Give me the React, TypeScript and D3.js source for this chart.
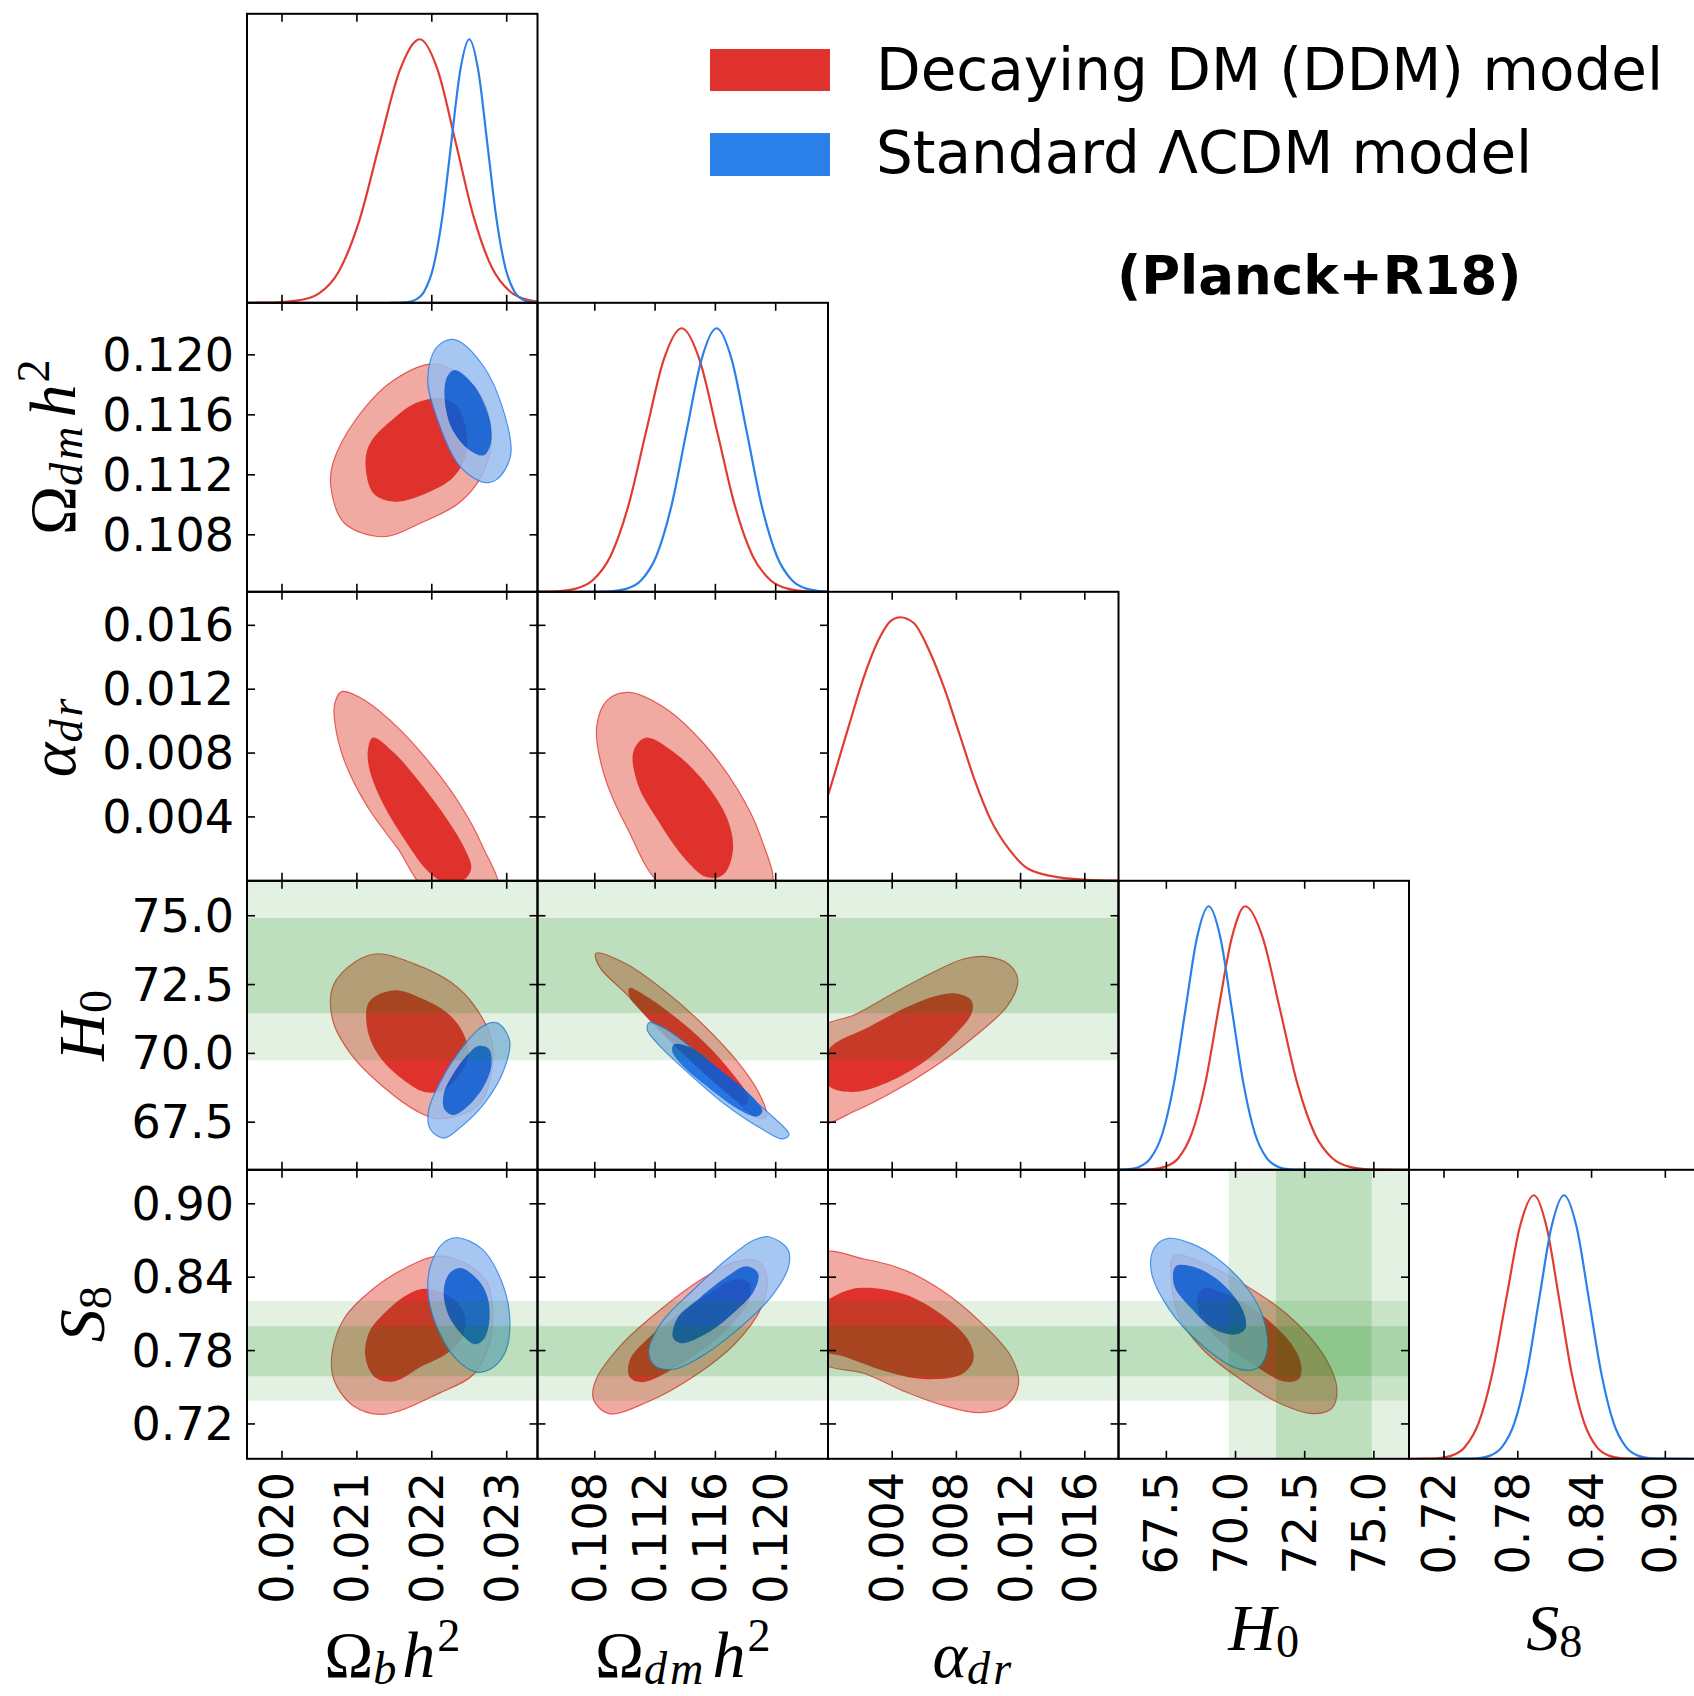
import React from 'react';
import * as d3 from 'd3';

type P = [number, number];

// ---------- axes ----------
const paramDomains: P[] = [
  [0.019533, 0.023411],
  [0.1042, 0.12347],
  [0, 0.0181],
  [65.77, 76.27],
  [0.6915, 0.9278],
];
const paramTicks: number[][] = [
  [0.02, 0.021, 0.022, 0.023],
  [0.108, 0.112, 0.116, 0.12],
  [0.004, 0.008, 0.012, 0.016],
  [67.5, 70.0, 72.5, 75.0],
  [0.72, 0.78, 0.84, 0.9],
];
const paramTickLabels: string[][] = [
  ['0.020', '0.021', '0.022', '0.023'],
  ['0.108', '0.112', '0.116', '0.120'],
  ['0.004', '0.008', '0.012', '0.016'],
  ['67.5', '70.0', '72.5', '75.0'],
  ['0.72', '0.78', '0.84', '0.90'],
];
const densityDomain: P = [0, 1.0965];

// ---------- external constraints (R18 H0, S8) ----------
const r18H0Bands: P[] = [[69.75, 76.6], [71.46, 74.92]];
const s8Bands: P[] = [[0.739, 0.8206], [0.759, 0.8]];
const priorBands: (P[] | null)[] = [null, null, null, r18H0Bands, s8Bands];

// ---------- legend ----------
const legendLabels = ['Decaying DM (DDM) model', 'Standard \u039BCDM model'];
const titleText = '(Planck+R18)';

// ---------- 1D marginals [value, density] ----------
const ddmObh1D: P[] = [[0.01953, 0], [0.01968, 0.0003], [0.01995, 0.002], [0.02022, 0.009], [0.02049, 0.035], [0.02076, 0.12], [0.02103, 0.31], [0.0213, 0.6], [0.02157, 0.88], [0.02184, 1], [0.02208, 0.882], [0.02232, 0.607], [0.02256, 0.325], [0.0228, 0.135], [0.02304, 0.044], [0.02328, 0.011], [0.02352, 0.002]];
const lcdmObh1D: P[] = [[0.02144, 0], [0.02166, 0.002], [0.02178, 0.011], [0.0219, 0.044], [0.02202, 0.135], [0.02214, 0.325], [0.02226, 0.607], [0.02238, 0.882], [0.0225, 1], [0.02262, 0.882], [0.02274, 0.607], [0.02286, 0.325], [0.02298, 0.135], [0.0231, 0.044], [0.02322, 0.011], [0.02334, 0.002], [0.02346, 0]];
const ddmOdm1D: P[] = [[0.1042, 0.0002], [0.10432, 0.0003], [0.1055, 0.002], [0.10668, 0.011], [0.10786, 0.044], [0.10904, 0.135], [0.11022, 0.325], [0.1114, 0.607], [0.11258, 0.882], [0.11376, 1], [0.11494, 0.882], [0.11612, 0.607], [0.1173, 0.325], [0.11848, 0.135], [0.11966, 0.044], [0.12084, 0.011], [0.12202, 0.002], [0.12347, 0]];
const lcdmOdm1D: P[] = [[0.107, 0], [0.10908, 0.002], [0.11008, 0.011], [0.11108, 0.044], [0.11208, 0.135], [0.11308, 0.325], [0.11408, 0.607], [0.11508, 0.882], [0.11608, 1], [0.11708, 0.882], [0.11808, 0.607], [0.11908, 0.325], [0.12008, 0.135], [0.12108, 0.044], [0.12208, 0.011], [0.12308, 0.002], [0.12347, 0.001]];
const ddmAlpha1D: P[] = [[0, 0.325], [0.00021, 0.366], [0.00128, 0.584], [0.00224, 0.774], [0.0032, 0.92], [0.00391, 0.986], [0.0045, 1], [0.00534, 0.978], [0.00629, 0.876], [0.00725, 0.73], [0.0082, 0.555], [0.00915, 0.38], [0.01011, 0.235], [0.0113, 0.118], [0.01249, 0.045], [0.0144, 0.013], [0.01607, 0.004], [0.0181, 0.001]];
const ddmH01D: P[] = [[65.77, 0], [66.47, 0.0003], [66.96, 0.002], [67.44, 0.011], [67.93, 0.044], [68.41, 0.135], [68.9, 0.325], [69.38, 0.607], [69.87, 0.882], [70.35, 1], [70.98, 0.882], [71.61, 0.607], [72.24, 0.325], [72.87, 0.135], [73.5, 0.044], [74.13, 0.011], [74.76, 0.002], [75.39, 0.0003], [76.27, 0]];
const lcdmH01D: P[] = [[65.77, 0], [66.09, 0.002], [66.51, 0.011], [66.93, 0.044], [67.35, 0.135], [67.77, 0.325], [68.19, 0.607], [68.61, 0.882], [69.03, 1], [69.45, 0.882], [69.87, 0.607], [70.29, 0.325], [70.71, 0.135], [71.13, 0.044], [71.55, 0.011], [71.97, 0.002], [72.39, 0.0003], [73.5, 0]];
const ddmS81D: P[] = [[0.6915, 0], [0.7031, 0.0003], [0.7143, 0.002], [0.7256, 0.011], [0.7368, 0.044], [0.7481, 0.135], [0.7593, 0.325], [0.7706, 0.607], [0.7818, 0.882], [0.7931, 1], [0.8033, 0.882], [0.8136, 0.607], [0.8238, 0.325], [0.8341, 0.135], [0.8443, 0.044], [0.8546, 0.011], [0.8648, 0.002], [0.8751, 0.0003], [0.9, 0]];
const lcdmS81D: P[] = [[0.72, 0], [0.7368, 0.0003], [0.7469, 0.002], [0.757, 0.011], [0.7671, 0.044], [0.7772, 0.135], [0.7873, 0.325], [0.7974, 0.607], [0.8075, 0.882], [0.8176, 1], [0.8277, 0.882], [0.8378, 0.607], [0.8479, 0.325], [0.858, 0.135], [0.8681, 0.044], [0.8782, 0.011], [0.8883, 0.002], [0.8984, 0.0003], [0.9278, 0]];

// ---------- 2D contours [x, y] (95% and 68% regions) ----------
const ddmObhOdm95: P[] = [[0.020653, 0.11118], [0.020832, 0.10879], [0.021343, 0.10787], [0.021853, 0.10879], [0.022363, 0.11012], [0.022669, 0.11197], [0.022797, 0.11462], [0.022619, 0.11753], [0.022057, 0.11939], [0.021496, 0.11833], [0.020985, 0.11569], [0.02068, 0.11277]];
const ddmObhOdm68: P[] = [[0.021115, 0.112965], [0.021216, 0.110787], [0.021504, 0.110211], [0.021937, 0.110787], [0.022297, 0.11188], [0.022471, 0.113689], [0.022369, 0.116369], [0.022153, 0.117092], [0.021793, 0.116804], [0.021432, 0.115498], [0.021187, 0.114198]];
const lcdmObhOdm95: P[] = [[0.022287, 0.121032], [0.022669, 0.11939], [0.022976, 0.115947], [0.023052, 0.1133], [0.022873, 0.111712], [0.022695, 0.111498], [0.022363, 0.112637], [0.022057, 0.115947], [0.021945, 0.118332], [0.022057, 0.120449]];
const lcdmObhOdm68: P[] = [[0.022312, 0.118995], [0.022567, 0.117936], [0.022772, 0.115685], [0.022787, 0.114091], [0.022695, 0.1133], [0.022491, 0.113695], [0.022261, 0.115156], [0.022169, 0.117273], [0.022211, 0.1186]];

const ddmObhAlpha95: P[] = [[0.020797, 0.01185], [0.021036, 0.011492], [0.021445, 0.01005], [0.021904, 0.007774], [0.022363, 0.00489], [0.022669, 0.00225], [0.022873, -0.0006], [0.021955, -0.0006], [0.021547, 0.002012], [0.021139, 0.004651], [0.020832, 0.007529], [0.020705, 0.009931], [0.020705, 0.011128]];
const ddmObhAlpha68: P[] = [[0.021215, 0.008971], [0.021496, 0.008012], [0.021853, 0.006093], [0.022211, 0.003811], [0.02244, 0.002012], [0.022527, 0.000814], [0.02244, 0.000093], [0.022211, -0.0002], [0.021955, 0.00057], [0.021649, 0.002495], [0.021343, 0.00489], [0.021164, 0.007053], [0.021149, 0.00825]];

const ddmObhH095: P[] = [[0.02068, 72.431], [0.020985, 73.338], [0.021292, 73.619], [0.021751, 73.269], [0.022261, 72.573], [0.022567, 71.735], [0.022797, 70.481], [0.022781, 69.085], [0.022619, 68.109], [0.022108, 67.62], [0.021801, 67.901], [0.021343, 68.805], [0.020935, 69.92], [0.02068, 71.177]];
const ddmObhH068: P[] = [[0.021164, 71.873], [0.021496, 72.292], [0.021853, 72.012], [0.022211, 71.458], [0.022415, 70.758], [0.022491, 69.924], [0.022363, 69.224], [0.022159, 68.666], [0.021904, 68.597], [0.021597, 69.085], [0.021292, 69.924], [0.021139, 70.897]];
const lcdmObhH095: P[] = [[0.022873, 71.108], [0.023037, 70.481], [0.022976, 69.504], [0.02272, 68.247], [0.022363, 67.27], [0.022159, 66.924], [0.02198, 67.245], [0.021955, 67.901], [0.022108, 68.947], [0.022363, 70.062], [0.022669, 70.969]];
const lcdmObhH068: P[] = [[0.022619, 70.27], [0.022761, 70.171], [0.022797, 69.574], [0.022695, 68.805], [0.022465, 68.039], [0.022287, 67.759], [0.022169, 67.97], [0.022159, 68.528], [0.022312, 69.366], [0.022491, 69.993]];

const ddmObhS895: P[] = [[0.022108, 0.8575], [0.022516, 0.84896], [0.022745, 0.83479], [0.022812, 0.81208], [0.022772, 0.7866], [0.022567, 0.76103], [0.022108, 0.7454], [0.021343, 0.72782], [0.020935, 0.73547], [0.020689, 0.7568], [0.020669, 0.77805], [0.020832, 0.80646], [0.021189, 0.82909], [0.021649, 0.84757]];
const ddmObhS868: P[] = [[0.021904, 0.83056], [0.022261, 0.82347], [0.02244, 0.80923], [0.022415, 0.79221], [0.022211, 0.77805], [0.021853, 0.76673], [0.021496, 0.75476], [0.02124, 0.75818], [0.021113, 0.7752], [0.021164, 0.79506], [0.021393, 0.81208], [0.021649, 0.82486]];
const lcdmObhS895: P[] = [[0.022337, 0.87224], [0.022669, 0.86312], [0.022924, 0.83764], [0.023041, 0.80646], [0.022976, 0.77805], [0.022772, 0.76445], [0.022593, 0.76242], [0.022337, 0.77235], [0.022097, 0.79506], [0.021955, 0.82347], [0.02198, 0.84896], [0.022159, 0.86825]];
const lcdmObhS868: P[] = [[0.022389, 0.84757], [0.022619, 0.83764], [0.022745, 0.82347], [0.022767, 0.80361], [0.022695, 0.78937], [0.022583, 0.78513], [0.022415, 0.79221], [0.02222, 0.80923], [0.022159, 0.82909], [0.022236, 0.84326]];

const ddmOdmAlpha95: P[] = [[0.110225, 0.011799], [0.112627, 0.01084], [0.115149, 0.008677], [0.117426, 0.005799], [0.118938, 0.002921], [0.119644, -0.0006], [0.112878, -0.0006], [0.110099, 0.003397], [0.108581, 0.006758], [0.108125, 0.009636], [0.108832, 0.011316]];
const ddmOdmAlpha68: P[] = [[0.11136, 0.008965], [0.11338, 0.007956], [0.1154, 0.006037], [0.116793, 0.00388], [0.117169, 0.001962], [0.116542, 0.0004], [0.1154, 0.000231], [0.113888, 0.001479], [0.112119, 0.00388], [0.110858, 0.006037], [0.110555, 0.008075]];

const ddmOdmH095: P[] = [[0.10808, 73.633], [0.1101, 73.247], [0.11263, 72.274], [0.11515, 71.06], [0.11743, 69.723], [0.11894, 68.509], [0.11939, 67.719], [0.11894, 67.635], [0.11717, 68.386], [0.11465, 69.603], [0.11212, 70.937], [0.1101, 72.154], [0.10833, 73.123]];
const ddmOdmH068: P[] = [[0.1103, 72.372], [0.11136, 72.092], [0.11338, 71.301], [0.1154, 70.332], [0.11717, 69.238], [0.11818, 68.386], [0.11793, 68.119], [0.11692, 68.484], [0.1149, 69.457], [0.11288, 70.55], [0.11111, 71.52], [0.1103, 72.055]];
const lcdmOdmH095: P[] = [[0.11161, 71.119], [0.11272, 70.889], [0.11496, 69.96], [0.11752, 68.765], [0.11982, 67.69], [0.12089, 67.052], [0.12046, 66.891], [0.11909, 67.252], [0.11663, 68.152], [0.11409, 69.348], [0.11226, 70.303], [0.11149, 70.842]];
const lcdmOdmH068: P[] = [[0.11325, 70.332], [0.11439, 70.208], [0.11641, 69.359], [0.11818, 68.568], [0.11912, 67.901], [0.11874, 67.708], [0.11743, 68.0], [0.1154, 68.812], [0.11364, 69.661], [0.11313, 70.087]];

const ddmOdmS895: P[] = [[0.10792, 0.73979], [0.10893, 0.72839], [0.11146, 0.73775], [0.11449, 0.75818], [0.11727, 0.78513], [0.11904, 0.81493], [0.11941, 0.84049], [0.11879, 0.85319], [0.11727, 0.85237], [0.115, 0.83764], [0.11222, 0.81208], [0.10969, 0.78375], [0.10805, 0.75533]];
const ddmOdmS868: P[] = [[0.11032, 0.75818], [0.11121, 0.75419], [0.11323, 0.76527], [0.1155, 0.78375], [0.1172, 0.803], [0.1183, 0.823], [0.1182, 0.836], [0.1172, 0.838], [0.1155, 0.826], [0.11348, 0.809], [0.11146, 0.789], [0.11032, 0.77235]];
const lcdmOdmS895: P[] = [[0.11955, 0.87305], [0.12081, 0.86255], [0.12086, 0.84896], [0.11967, 0.82347], [0.11727, 0.79506], [0.115, 0.77463], [0.11323, 0.7647], [0.11197, 0.76755], [0.11158, 0.78033], [0.11247, 0.80361], [0.11449, 0.82909], [0.11677, 0.85465], [0.11853, 0.8702]];
const lcdmOdmS868: P[] = [[0.11803, 0.84896], [0.11883, 0.84326], [0.11858, 0.82909], [0.11727, 0.81151], [0.1155, 0.79449], [0.11373, 0.78603], [0.11318, 0.79083], [0.11348, 0.80646], [0.115, 0.82347], [0.11677, 0.84049]];

const ddmAlphaH095: P[] = [[0.00987, 73.513], [0.0113, 73.222], [0.01183, 72.638], [0.01118, 71.727], [0.00892, 70.514], [0.00653, 69.479], [0.00415, 68.63], [0.00176, 67.926], [-0.0006, 67.474], [-0.0006, 70.816], [0.00176, 71.425], [0.00415, 72.212], [0.00653, 72.941], [0.00844, 73.429]];
const ddmAlphaH068: P[] = [[0.00796, 72.176], [0.00892, 71.935], [0.00897, 71.483], [0.00773, 70.572], [0.00582, 69.625], [0.00343, 68.874], [0.00176, 68.604], [0.0002, 68.75], [-0.0006, 69.4], [0.0002, 70.25], [0.00248, 70.937], [0.00486, 71.665], [0.00677, 72.092]];

const ddmAlphaS895: P[] = [[-0.0005, 0.85889], [0.00233, 0.85465], [0.00472, 0.84611], [0.0071, 0.82909], [0.00948, 0.80361], [0.0114, 0.7752], [0.01187, 0.75257], [0.01115, 0.73547], [0.00948, 0.72928], [0.0071, 0.73547], [0.00472, 0.74687], [0.00233, 0.76103], [-0.0005, 0.77235]];
const ddmAlphaS868: P[] = [[0.00024, 0.82347], [0.00186, 0.83113], [0.00472, 0.82624], [0.0071, 0.80923], [0.00877, 0.78798], [0.00906, 0.77235], [0.00829, 0.76046], [0.00591, 0.7568], [0.00353, 0.76331], [0.00114, 0.77463], [-0.0006, 0.78228], [-0.0006, 0.815]];

const ddmH0S895: P[] = [[67.778, 0.8575], [68.82, 0.85181], [70.35, 0.83341], [71.88, 0.80923], [73.128, 0.77805], [73.658, 0.74972], [73.478, 0.7327], [72.781, 0.72839], [71.461, 0.73832], [70.072, 0.75818], [68.82, 0.7809], [67.987, 0.80646], [67.68, 0.83764]];
const ddmH0S868: P[] = [[68.82, 0.83056], [69.654, 0.82624], [70.765, 0.81208], [71.88, 0.78937], [72.363, 0.76958], [72.294, 0.7568], [71.739, 0.75476], [70.765, 0.76673], [69.654, 0.78375], [68.82, 0.80361], [68.611, 0.82063]];
const lcdmH0S895: P[] = [[67.569, 0.87167], [68.405, 0.86744], [69.376, 0.85465], [70.487, 0.82909], [71.043, 0.80361], [71.129, 0.77805], [70.765, 0.76527], [70.072, 0.76527], [68.82, 0.78375], [67.569, 0.81493], [66.944, 0.84611], [67.085, 0.86459]];
const lcdmH0S868: P[] = [[67.846, 0.84896], [68.611, 0.84757], [69.517, 0.83479], [70.281, 0.81208], [70.35, 0.79791], [69.96, 0.79311], [69.239, 0.79734], [68.405, 0.81436], [67.778, 0.83341]];

// table of panels built from the named arrays above
const marginals = [
  { idx: 0, ddm: ddmObh1D, lcdm: lcdmObh1D },
  { idx: 1, ddm: ddmOdm1D, lcdm: lcdmOdm1D },
  { idx: 2, ddm: ddmAlpha1D, lcdm: null },
  { idx: 3, ddm: ddmH01D, lcdm: lcdmH01D },
  { idx: 4, ddm: ddmS81D, lcdm: lcdmS81D },
];
const panels2D = [
  { row: 1, col: 0, ddm: [ddmObhOdm95, ddmObhOdm68], lcdm: [lcdmObhOdm95, lcdmObhOdm68] },
  { row: 2, col: 0, ddm: [ddmObhAlpha95, ddmObhAlpha68], lcdm: null },
  { row: 3, col: 0, ddm: [ddmObhH095, ddmObhH068], lcdm: [lcdmObhH095, lcdmObhH068] },
  { row: 4, col: 0, ddm: [ddmObhS895, ddmObhS868], lcdm: [lcdmObhS895, lcdmObhS868] },
  { row: 2, col: 1, ddm: [ddmOdmAlpha95, ddmOdmAlpha68], lcdm: null },
  { row: 3, col: 1, ddm: [ddmOdmH095, ddmOdmH068], lcdm: [lcdmOdmH095, lcdmOdmH068] },
  { row: 4, col: 1, ddm: [ddmOdmS895, ddmOdmS868], lcdm: [lcdmOdmS895, lcdmOdmS868] },
  { row: 3, col: 2, ddm: [ddmAlphaH095, ddmAlphaH068], lcdm: null },
  { row: 4, col: 2, ddm: [ddmAlphaS895, ddmAlphaS868], lcdm: null },
  { row: 4, col: 3, ddm: [ddmH0S895, ddmH0S868], lcdm: [lcdmH0S895, lcdmH0S868] },
];

type Part = { t: string; it?: boolean; sub?: boolean; sup?: boolean };
const axisLabels: Part[][] = [
  [{ t: '\u03A9' }, { t: 'b', it: true, sub: true }, { t: 'h', it: true }, { t: '2', sup: true }],
  [{ t: '\u03A9' }, { t: 'dm', it: true, sub: true }, { t: 'h', it: true }, { t: '2', sup: true }],
  [{ t: '\u03B1', it: true }, { t: 'dr', it: true, sub: true }],
  [{ t: 'H', it: true }, { t: '0', sub: true }],
  [{ t: 'S', it: true }, { t: '8', sub: true }],
];

// ---------- style / layout ----------
const W = 290.5;
const H = 289;
const X0 = 247;
const Y0 = 13.8;
const RED = '#e0322d';
const RED_LIGHT = '#f0aaa2';
const RED_LINE = '#e23c31';
const BLUE = '#005edd';
const BLUE_LIGHT = '#96bef0';
const BLUE_LINE = '#2a80e8';
const TICK_FONT = 'DejaVu Sans';
const MATH_FONT = 'Liberation Serif, Times New Roman, serif';

function MathText({ parts, size }: { parts: Part[]; size: number }) {
  const subSize = size * 0.7;
  const subDy = 7;
  const supDy = size * 0.4;
  let cur = 0;
  let prevSub = false;
  return (
    <>
      {parts.map((p, k) => {
        const target = p.sub ? subDy : p.sup ? -supDy : 0;
        const dy = target - cur;
        cur = target;
        const dx = prevSub ? 6 : p.sup ? 2 : 0;
        prevSub = !!p.sub;
        return (
          <tspan
            key={k}
            dy={dy}
            dx={dx}
            fontSize={p.sub || p.sup ? subSize : size}
            fontStyle={p.it ? 'italic' : 'normal'}
            letterSpacing={p.sub && p.t.length > 1 ? 3 : 0}
          >
            {p.t}
          </tspan>
        );
      })}
    </>
  );
}

export default function App() {
  const xs = paramDomains.map((d, j) => d3.scaleLinear().domain(d).range([X0 + j * W, X0 + (j + 1) * W]));
  const ys = paramDomains.map((d, i) => d3.scaleLinear().domain(d).range([Y0 + (i + 1) * H, Y0 + i * H]));
  const dens = (i: number) => d3.scaleLinear().domain(densityDomain).range([Y0 + (i + 1) * H, Y0 + i * H]);

  const closed = (xsc: any, ysc: any) =>
    d3.line<P>().x((p) => xsc(p[0])).y((p) => ysc(p[1])).curve(d3.curveCatmullRomClosed.alpha(0.5));

  const tickLen = 8;
  const elems: React.ReactNode[] = [];
  const defs: React.ReactNode[] = [];

  for (let i = 0; i < 5; i++) {
    for (let j = 0; j <= i; j++) {
      const px = X0 + j * W;
      const py = Y0 + i * H;
      const cid = `clip-${i}-${j}`;
      defs.push(
        <clipPath id={cid} key={cid}>
          <rect x={px} y={py} width={W} height={H} />
        </clipPath>
      );
      const content: React.ReactNode[] = [];
      if (i === j) {
        const m = marginals[i];
        const line = d3.line<P>().x((p) => xs[i](p[0])).y((p) => dens(i)(p[1])).curve(d3.curveMonotoneX);
        content.push(<path key="r" d={line(m.ddm) || ''} fill="none" stroke={RED_LINE} strokeWidth={2.2} />);
        if (m.lcdm) content.push(<path key="b" d={line(m.lcdm) || ''} fill="none" stroke={BLUE_LINE} strokeWidth={2.2} />);
      } else {
        const pnl = panels2D.find((q) => q.row === i && q.col === j);
        if (pnl) {
          const gen = closed(xs[j], ys[i]);
          content.push(
            <g key="ddm">
              <path d={gen(pnl.ddm[0]) || ''} fill={RED_LIGHT} stroke={RED} strokeWidth={1.2} strokeOpacity={0.75} />
              <path d={gen(pnl.ddm[1]) || ''} fill={RED} />
            </g>
          );
          if (pnl.lcdm) {
            content.push(
              <g key="lcdm" opacity={0.85}>
                <path d={gen(pnl.lcdm[0]) || ''} fill={BLUE_LIGHT} stroke={BLUE_LINE} strokeWidth={1.2} />
                <path d={gen(pnl.lcdm[1]) || ''} fill={BLUE} />
              </g>
            );
          }
        }
        const by = priorBands[i];
        if (by) {
          by.forEach((b, k) => {
            const y1 = ys[i](b[1]);
            const y2 = ys[i](b[0]);
            content.push(
              <rect key={`hb${k}`} x={px} y={y1} width={W} height={y2 - y1} fill="#008000" fillOpacity={k === 0 ? 0.11 : 0.16} />
            );
          });
        }
        const bx = priorBands[j];
        if (bx) {
          bx.forEach((b, k) => {
            const x1 = xs[j](b[0]);
            const x2 = xs[j](b[1]);
            content.push(
              <rect key={`vb${k}`} x={x1} y={py} width={x2 - x1} height={H} fill="#008000" fillOpacity={k === 0 ? 0.11 : 0.16} />
            );
          });
        }
      }
      // ticks
      const tks: React.ReactNode[] = [];
      paramTicks[j].forEach((t, k) => {
        const x = xs[j](t);
        tks.push(<line key={`tb${k}`} x1={x} x2={x} y1={py + H} y2={py + H - tickLen} />);
        tks.push(<line key={`tt${k}`} x1={x} x2={x} y1={py} y2={py + tickLen} />);
      });
      if (i !== j) {
        paramTicks[i].forEach((t, k) => {
          const y = ys[i](t);
          tks.push(<line key={`tl${k}`} x1={px} x2={px + tickLen} y1={y} y2={y} />);
          tks.push(<line key={`tr${k}`} x1={px + W} x2={px + W - tickLen} y1={y} y2={y} />);
        });
      }
      elems.push(
        <g key={`p-${i}-${j}`}>
          <g clipPath={`url(#${cid})`}>{content}</g>
          <g stroke="#000" strokeWidth={1.6}>{tks}</g>
          <rect x={px} y={py} width={W} height={H} fill="none" stroke="#000" strokeWidth={2} />
        </g>
      );
    }
  }

  // tick labels
  const tickLabelEls: React.ReactNode[] = [];
  for (let i = 1; i < 5; i++) {
    paramTicks[i].forEach((t, k) => {
      tickLabelEls.push(
        <text key={`yl${i}-${k}`} x={234} y={ys[i](t) + 16} textAnchor="end" fontSize={46} fontFamily={TICK_FONT}>
          {paramTickLabels[i][k]}
        </text>
      );
    });
  }
  for (let j = 0; j < 5; j++) {
    paramTicks[j].forEach((t, k) => {
      const x = xs[j](t) + 11;
      tickLabelEls.push(
        <text key={`xl${j}-${k}`} transform={`translate(${x},1472) rotate(-90)`} textAnchor="end" fontSize={46} fontFamily={TICK_FONT}>
          {paramTickLabels[j][k]}
        </text>
      );
    });
  }

  // axis labels
  const labelEls: React.ReactNode[] = [];
  for (let j = 0; j < 5; j++) {
    const cx = X0 + j * W + W / 2;
    const by = j < 3 ? 1677 : 1650;
    labelEls.push(
      <text key={`xlab${j}`} x={cx} y={by} textAnchor="middle" fontFamily={MATH_FONT}>
        <MathText parts={axisLabels[j]} size={66} />
      </text>
    );
  }
  for (let i = 1; i < 5; i++) {
    const cy = Y0 + i * H + H / 2;
    const bx = i < 3 ? 75 : 104;
    labelEls.push(
      <text key={`ylab${i}`} transform={`translate(${bx},${cy}) rotate(-90)`} textAnchor="middle" fontFamily={MATH_FONT}>
        <MathText parts={axisLabels[i]} size={66} />
      </text>
    );
  }

  return (
    <svg
      width={1694}
      height={1696}
      viewBox="0 0 1694 1696"
      style={{ position: 'absolute', left: 0, top: 0, background: '#fff' }}
    >
      <defs>{defs}</defs>
      <rect x={0} y={0} width={1694} height={1696} fill="#fff" />
      {elems}
      {tickLabelEls}
      {labelEls}
      <g fontFamily={TICK_FONT} fontSize={58}>
        <rect x={710} y={49} width={120} height={42} fill="#e0332f" />
        <text x={876} y={90}>{legendLabels[0]}</text>
        <rect x={710} y={133} width={120} height={43} fill="#2a80e8" />
        <text x={876} y={173}>{legendLabels[1]}</text>
      </g>
      <text x={1117} y={294} fontFamily={TICK_FONT} fontWeight="bold" fontSize={53}>
        {titleText}
      </text>
    </svg>
  );
}
